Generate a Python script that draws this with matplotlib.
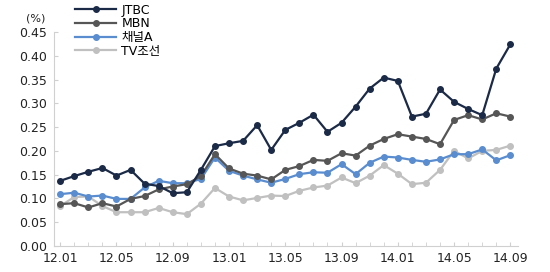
import numpy as np
from matplotlib import pyplot as plt

plt.rcParams['font.family'] = ['DejaVu Sans', 'Noto Sans CJK KR']

MONTHS = ["12.01", "12.05", "12.09", "13.01", "13.05", "13.09", "14.01", "14.05", "14.09"]
NPT = 33  # 12.01 .. 14.09 monthly

JTBC = [0.137, 0.147, 0.156, 0.164, 0.148, 0.160, 0.131, 0.126, 0.111, 0.113,
        0.160, 0.210, 0.216, 0.221, 0.254, 0.202, 0.244, 0.259, 0.276, 0.240,
        0.259, 0.293, 0.331, 0.354, 0.347, 0.272, 0.278, 0.329, 0.303, 0.288,
        0.275, 0.373, 0.424]
MBN = [0.088, 0.090, 0.081, 0.090, 0.083, 0.099, 0.105, 0.119, 0.125, 0.130,
       0.147, 0.193, 0.163, 0.152, 0.148, 0.140, 0.160, 0.168, 0.181, 0.179,
       0.195, 0.190, 0.211, 0.225, 0.235, 0.230, 0.225, 0.214, 0.265, 0.275,
       0.266, 0.279, 0.272]
CHA = [0.109, 0.112, 0.104, 0.106, 0.099, 0.099, 0.123, 0.137, 0.132, 0.132,
       0.141, 0.186, 0.158, 0.148, 0.140, 0.133, 0.141, 0.151, 0.155, 0.154,
       0.172, 0.151, 0.175, 0.188, 0.186, 0.181, 0.177, 0.182, 0.193, 0.193,
       0.203, 0.180, 0.191]
TVC = [0.084, 0.103, 0.104, 0.084, 0.071, 0.071, 0.071, 0.080, 0.071, 0.067,
       0.089, 0.122, 0.104, 0.096, 0.101, 0.106, 0.105, 0.116, 0.123, 0.127,
       0.144, 0.132, 0.148, 0.170, 0.152, 0.130, 0.133, 0.160, 0.200, 0.184,
       0.200, 0.202, 0.211]

SERIES = [("JTBC", JTBC, "#1b2a47"),
          ("MBN", MBN, "#565656"),
          ("채널A", CHA, "#5a8dcf"),
          ("TV조선", TVC, "#c0c0c0")]

def main():
    fig = plt.figure(figsize=(5.5, 2.72), dpi=100)
    ax = fig.add_axes([0.098, 0.0956, 0.844, 0.787])
    x = np.arange(NPT)
    # draw back to front so JTBC is on top
    for name, vals, col in SERIES[::-1]:
        ax.plot(x, vals, color=col, lw=1.6, marker='o', ms=4, label=name, zorder=3)

    ax.set_xlim(-0.45, 32.55)
    ax.set_ylim(0, 0.45)
    ax.set_yticks(np.arange(0, 0.451, 0.05))
    ax.set_yticklabels([f"{v:.2f}" for v in np.arange(0, 0.451, 0.05)])
    ax.set_xticks(np.arange(0, NPT, 4))
    ax.set_xticklabels(MONTHS)
    ax.set_xticks(np.arange(0, NPT), minor=True)
    for s in ["top", "right"]:
        ax.spines[s].set_visible(False)
    for s in ["left", "bottom"]:
        ax.spines[s].set_color("#d0d0d0")
    ax.tick_params(axis='both', which='both', direction='in', color="#d0d0d0",
                   labelsize=9, labelcolor="#222222", length=3)
    ax.tick_params(axis='x', pad=4)
    ax.tick_params(axis='y', pad=5)
    ax.text(-0.06, 1.05, "(%)", transform=ax.transAxes, fontsize=8, color="#222222")

    h, l = ax.get_legend_handles_labels()
    leg = ax.legend(h[::-1], l[::-1], loc='upper left', bbox_to_anchor=(0.035, 1.155),
                    frameon=False, fontsize=9, handlelength=3.3, handletextpad=0.4,
                    labelspacing=0.05, borderaxespad=0)
    fig.savefig("out.png", dpi=100)

if __name__ == "__main__":
    main()
